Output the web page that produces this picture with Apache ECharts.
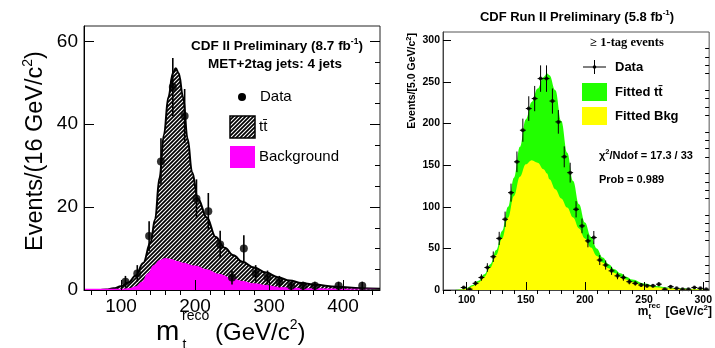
<!DOCTYPE html>
<html>
<head>
<meta charset="utf-8">
<script src="https://cdn.jsdelivr.net/npm/echarts@6/dist/echarts.min.js"></script>
<style>
  html, body { margin: 0; padding: 0; background: #fff; }
  #chart { width: 715px; height: 348px; }
</style>
</head>
<body>
<div id="chart"></div>
<script>
// ---------- Left panel: MET+2tag jets, 4 jets (16 GeV/c^2 bins) ----------
const leftDataMass   = [106, 122, 138, 154, 170, 186, 202, 218, 234, 250, 266, 282, 298, 314, 330, 346, 362, 394, 426];
const leftDataEvents = [2, 4, 13, 31, 49, 42, 22, 19, 11, 3, 10, 4, 3, 2, 1, 1, 1, 1, 1];
const leftDataErr    = [1.4, 2, 3.6, 5.6, 7, 6.5, 4.7, 4.4, 3.3, 1.7, 3.2, 2, 1.7, 1.4, 1, 1, 1, 1, 1];

const leftFitMass  = [50, 70, 80, 90, 100, 110, 120, 130, 140, 146, 152, 158, 164, 170, 174, 178, 184, 190, 196, 204,
                      216, 228, 240, 252, 264, 280, 296, 312, 328, 344, 360, 392, 424, 450];
const leftFitTotal = [0, 0, 0.1, 0.4, 0.9, 1.8, 3.5, 6.5, 11.5, 17, 27, 37.5, 46.5, 52.3, 53.5, 52.3, 46.5, 36.5, 28.5, 22,
                      17.5, 12.8, 10.2, 8.4, 6.8, 5.4, 4.2, 3.1, 2.3, 1.7, 1.3, 0.8, 0.45, 0.3];

const leftBkgMass = [50, 100, 112, 120, 128, 136, 144, 152, 160, 168, 176, 184, 200, 216, 232, 248, 264, 280, 296, 312,
                     330, 360, 400, 450];
const leftBkg     = [0.3, 0.3, 0.5, 0.9, 2.0, 4.0, 6.0, 7.2, 7.7, 7.5, 7.0, 6.6, 5.9, 5.0, 3.9, 3.0, 2.2, 1.6, 1.2, 0.8,
                     0.55, 0.4, 0.3, 0.3];

const leftXTicks = [100, 200, 300, 400];
const leftXMinor = [60, 80, 120, 140, 160, 180, 220, 240, 260, 280, 320, 340, 360, 380, 420, 440];
const leftYTicks = [0, 20, 40, 60];
const leftYMinor = [5, 10, 15, 25, 30, 35, 45, 50, 55];

// ---------- Right panel: >= 1-tag events (5 GeV/c^2 bins) ----------
const rightDataMass = [97.5, 102.5, 107.5, 112.5, 117.5, 122.5, 127.5, 132.5, 137.5, 142.5,
                       147.5, 152.5, 157.5, 162.5, 167.5, 172.5, 177.5, 182.5, 187.5, 192.5,
                       197.5, 202.5, 207.5, 212.5, 217.5, 222.5, 227.5, 232.5, 237.5, 242.5,
                       247.5, 252.5, 257.5, 262.5, 267.5, 272.5, 277.5, 282.5, 287.5, 292.5,
                       297.5, 302.5];
const rightDataEvents = [3, 1, 8, 15, 27, 40, 62, 85, 117, 154,
                         192, 218, 230, 254, 254, 227, 202, 160, 141, 97,
                         77, 59, 63, 36, 30, 23, 17, 15, 10, 8,
                         6, 5, 5, 7, 1, 4, 2, 1, 1, 3,
                         2, 1];
const rightDataErr = [1.7, 1, 2.8, 3.9, 5.2, 6.3, 7.9, 9.2, 10.8, 12.4,
                      13.9, 14.8, 15.2, 15.9, 15.9, 15.1, 14.2, 12.6, 11.9, 9.8,
                      8.8, 7.7, 7.9, 6, 5.5, 4.8, 4.1, 3.9, 3.2, 2.8,
                      2.4, 2.2, 2.2, 2.6, 1, 2, 1.4, 1, 1, 1.7,
                      1.4, 1];
const rightBinHalfWidth = 2.5;

const rightFitMass  = [80, 90, 95, 100, 105, 110, 115, 120, 125, 130, 135, 140, 145, 150, 155, 160, 165, 168, 170, 175,
                       180, 185, 190, 195, 200, 205, 210, 215, 220, 225, 230, 235, 240, 250, 260, 270, 280, 290, 305];
const rightFitTotal = [0, 0, 0.5, 2.5, 6, 11, 19, 31, 48, 71, 100, 135, 172, 205, 226, 242, 256, 260, 258, 240,
                       203, 165, 131, 103, 81, 64, 50, 39, 31, 25, 20, 16, 12.5, 7.8, 4.8, 3, 2, 1.2, 0.6];
const rightFitBkg   = [0, 0, 0.3, 1.5, 4.5, 9, 16, 27, 42, 62, 87, 113, 136, 151, 156, 153, 145, 140, 133, 121,
                       110, 99, 87, 74, 62, 51, 41, 33, 26, 20.5, 16, 12.5, 9.5, 5.8, 3.4, 2.2, 1.4, 0.8, 0.4];

const rightXTicks = [100, 150, 200, 250, 300];
const rightXMinor = [80, 90, 110, 120, 130, 140, 160, 170, 180, 190, 210, 220, 230, 240, 260, 270, 280, 290];
const rightYTicks = [0, 50, 100, 150, 200, 250, 300];
const rightYMinor = [10, 20, 30, 40, 60, 70, 80, 90, 110, 120, 130, 140, 160, 170, 180, 190,
                     210, 220, 230, 240, 260, 270, 280, 290];

// ---------- helpers ----------
const SANS = 'Liberation Sans, Arial, Helvetica, sans-serif';
const SERIF = 'Liberation Serif, Times New Roman, serif';

const zip = (xs, ys) => xs.map((x, i) => [x, ys[i]]);
const zip3 = (xs, ys, es) => xs.map((x, i) => [x, ys[i], es[i]]);

// black background with white diagonal hatching for the ttbar template
function hatchPattern() {
  const c = document.createElement('canvas');
  c.width = 4; c.height = 4;
  const g = c.getContext('2d');
  g.fillStyle = '#000';
  g.fillRect(0, 0, 4, 4);
  g.strokeStyle = '#fff';
  g.lineWidth = 1.1;
  g.beginPath();
  g.moveTo(-1, 5); g.lineTo(5, -1);
  g.moveTo(-1, 1); g.lineTo(1, -1);
  g.moveTo(3, 5); g.lineTo(5, 3);
  g.stroke();
  return c;
}
const hatch = { image: hatchPattern(), repeat: 'repeat' };

function tickAxis(gridIndex, min, max, values, len, extra) {
  return Object.assign({
    gridIndex, type: 'value', min, max, z: 10,
    splitLine: { show: false },
    axisLine: { show: false },
    axisLabel: { show: false },
    axisTick: { show: true, inside: true, length: len, customValues: values, lineStyle: { color: '#000', width: 1 } }
  }, extra || {});
}

function text(x, y, str, size, opts) {
  const o = opts || {};
  const style = {
    text: str, fill: o.color || '#000',
    fontSize: size, fontFamily: o.family || SANS, fontWeight: o.weight || 'normal',
    align: o.align || 'left', textAlign: o.align || 'left',
    verticalAlign: 'middle', textVerticalAlign: 'middle'
  };
  if (o.rich) style.rich = o.rich;
  return { type: 'text', x, y, rotation: o.rotation || 0, z: 100, style };
}

function supStyle(size, raise, weight) {
  return { sup: { fontSize: size, fontFamily: SANS, fontWeight: weight || 'normal', padding: [0, 0, raise, 0] } };
}

// ---------- error bars ----------
function errorBars(width, withHorizontal) {
  return function (params, api) {
    const x = api.value(0), y = api.value(1), e = api.value(2);
    const top = api.coord([x, y + e]);
    const bot = api.coord([x, Math.max(0, y - e)]);
    const children = [{
      type: 'line',
      shape: { x1: top[0], y1: top[1], x2: bot[0], y2: bot[1] },
      style: { stroke: '#000', lineWidth: width }
    }];
    if (withHorizontal) {
      const l = api.coord([x - rightBinHalfWidth, y]);
      const r = api.coord([x + rightBinHalfWidth, y]);
      children.push({
        type: 'line',
        shape: { x1: l[0], y1: l[1], x2: r[0], y2: r[1] },
        style: { stroke: '#000', lineWidth: width }
      });
    }
    return { type: 'group', children };
  };
}

const chart = echarts.init(document.getElementById('chart'), null, { renderer: 'canvas', width: 715, height: 348 });

const option = {
  animation: false,
  backgroundColor: '#fff',
  grid: [
    { left: 84, top: 26, width: 296, height: 264, show: true, borderColor: '#222', borderWidth: 1, backgroundColor: 'transparent' },
    { left: 443, top: 32, width: 269, height: 258, show: true, borderColor: '#555', borderWidth: 1, backgroundColor: 'transparent' }
  ],
  xAxis: [
    tickAxis(0, 50, 450, leftXTicks, 10, {
      axisLine: { show: true, lineStyle: { color: '#000', width: 1 } },
      axisLabel: { show: true, customValues: leftXTicks, margin: 7, fontSize: 19, fontFamily: SANS, color: '#000' }
    }),
    tickAxis(0, 50, 450, leftXMinor, 5),
    tickAxis(1, 80, 305, rightXTicks, 8, {
      axisLine: { show: true, lineStyle: { color: '#444', width: 1 } },
      axisLabel: { show: true, customValues: rightXTicks, margin: 5, fontSize: 10.5, fontWeight: 'bold', fontFamily: SANS, color: '#000' }
    }),
    tickAxis(1, 80, 305, rightXMinor, 4)
  ],
  yAxis: [
    tickAxis(0, 0, 63.7, leftYTicks, 10, {
      axisLine: { show: true, lineStyle: { color: '#000', width: 1 } },
      axisLabel: { show: true, customValues: leftYTicks, margin: 6, fontSize: 19, fontFamily: SANS, color: '#000' }
    }),
    tickAxis(0, 0, 63.7, leftYMinor, 5),
    tickAxis(0, 0, 63.7, leftYTicks, 10, { position: 'right' }),
    tickAxis(0, 0, 63.7, leftYMinor, 5, { position: 'right' }),
    tickAxis(1, 0, 310, rightYTicks, 8, {
      axisLine: { show: true, lineStyle: { color: '#444', width: 1 } },
      axisLabel: { show: true, customValues: rightYTicks, margin: 3, fontSize: 10.5, fontWeight: 'bold', fontFamily: SANS, color: '#000' }
    }),
    tickAxis(1, 0, 310, rightYMinor, 4)
  ],
  series: [
    // left: ttbar + background template (hatched), outlined
    {
      type: 'line', xAxisIndex: 0, yAxisIndex: 0, z: 2,
      data: zip(leftFitMass, leftFitTotal),
      smooth: 0.4, smoothMonotone: 'x', showSymbol: false, silent: true,
      lineStyle: { color: '#000', width: 2 },
      areaStyle: { color: hatch, opacity: 1 }
    },
    // left: background template
    {
      type: 'line', xAxisIndex: 0, yAxisIndex: 0, z: 3,
      data: zip(leftBkgMass, leftBkg),
      smooth: 0.4, smoothMonotone: 'x', showSymbol: false, silent: true,
      lineStyle: { width: 0, color: '#ff00ff' },
      areaStyle: { color: '#ff00ff', opacity: 1 }
    },
    // left: data error bars
    {
      type: 'custom', xAxisIndex: 0, yAxisIndex: 0, z: 5,
      data: zip3(leftDataMass, leftDataEvents, leftDataErr),
      encode: { x: 0, y: 1 },
      renderItem: errorBars(1.6, false)
    },
    // left: data points
    {
      type: 'scatter', xAxisIndex: 0, yAxisIndex: 0, z: 6,
      data: zip(leftDataMass, leftDataEvents),
      symbol: 'circle', symbolSize: 8,
      itemStyle: { color: '#000' }
    },
    // right: fitted ttbar (stacked on background)
    {
      type: 'line', xAxisIndex: 2, yAxisIndex: 4, z: 2,
      data: zip(rightFitMass, rightFitTotal),
      smooth: 0.4, smoothMonotone: 'x', showSymbol: false, silent: true,
      lineStyle: { width: 0, color: '#22ff00' },
      areaStyle: { color: '#22ff00', opacity: 1 }
    },
    // right: fitted background
    {
      type: 'line', xAxisIndex: 2, yAxisIndex: 4, z: 3,
      data: zip(rightFitMass, rightFitBkg),
      smooth: 0.4, smoothMonotone: 'x', showSymbol: false, silent: true,
      lineStyle: { width: 0, color: '#ffff00' },
      areaStyle: { color: '#ffff00', opacity: 1 }
    },
    // right: data error bars
    {
      type: 'custom', xAxisIndex: 2, yAxisIndex: 4, z: 5,
      data: zip3(rightDataMass, rightDataEvents, rightDataErr),
      encode: { x: 0, y: 1 },
      renderItem: errorBars(1, true)
    },
    // right: data points
    {
      type: 'scatter', xAxisIndex: 2, yAxisIndex: 4, z: 6,
      data: zip(rightDataMass, rightDataEvents),
      symbol: 'circle', symbolSize: 4,
      itemStyle: { color: '#000' }
    }
  ],
  graphic: [
    // ----- left panel annotations -----
    text(277, 46, 'CDF II Preliminary (8.7 fb{sup|-1})', 13.5, { weight: 'bold', align: 'center', rich: supStyle(8.5, 9, 'bold') }),
    text(275, 64, 'MET+2tag jets: 4 jets', 13.5, { weight: 'bold', align: 'center' }),
    { type: 'circle', shape: { cx: 242, cy: 97, r: 4 }, style: { fill: '#000' }, z: 100 },
    text(260, 97, 'Data', 15),
    { type: 'rect', shape: { x: 230, y: 116, width: 25, height: 22 }, style: { fill: hatch, stroke: '#000', lineWidth: 1.5 }, z: 100 },
    text(259, 127, 't\u0074\u0304', 15),
    { type: 'rect', shape: { x: 230, y: 146, width: 25, height: 22 }, style: { fill: '#ff00ff' }, z: 100 },
    text(259, 157, 'Background', 15),
    text(36, 151, 'Events/(16 GeV/c{sup|2})', 23.5, { align: 'center', rotation: Math.PI / 2, rich: supStyle(14, 16) }),
    text(156, 332, 'm', 28),
    text(182, 316.5, 'reco', 14),
    text(182.5, 345, 't', 14),
    text(215, 333.5, '(GeV/c{sup|2})', 24, { rich: supStyle(14, 16) }),

    // ----- right panel annotations -----
    text(577, 17, 'CDF Run II Preliminary (5.8 fb{sup|-1})', 13, { weight: 'bold', align: 'center', rich: supStyle(8, 8, 'bold') }),
    text(627, 43, '\u2265 1-tag events', 12.5, { weight: 'bold', family: SERIF, align: 'center' }),
    { type: 'line', shape: { x1: 583, y1: 67, x2: 606, y2: 67 }, style: { stroke: '#000', lineWidth: 1 }, z: 100 },
    { type: 'line', shape: { x1: 594.5, y1: 60, x2: 594.5, y2: 74 }, style: { stroke: '#000', lineWidth: 1 }, z: 100 },
    { type: 'circle', shape: { cx: 594.5, cy: 67, r: 1.8 }, style: { fill: '#000' }, z: 100 },
    text(615, 67, 'Data', 13, { weight: 'bold' }),
    { type: 'rect', shape: { x: 582, y: 83, width: 25, height: 18 }, style: { fill: '#22ff00' }, z: 100 },
    text(615, 92, 'Fitted t\u0074\u0304', 13, { weight: 'bold' }),
    { type: 'rect', shape: { x: 582, y: 107, width: 25, height: 18 }, style: { fill: '#ffff00' }, z: 100 },
    text(615, 116, 'Fitted Bkg', 13, { weight: 'bold' }),
    text(599, 156, '\u03c7{sup|2}/Ndof = 17.3 / 33', 11, { weight: 'bold', rich: supStyle(7.5, 8, 'bold') }),
    text(599, 180, 'Prob = 0.989', 11, { weight: 'bold' }),
    text(412, 33, 'Events/[5.0 GeV/c{sup|2}]', 10.5, { weight: 'bold', align: 'right', rotation: Math.PI / 2, rich: supStyle(7.5, 7, 'bold') }),
    text(712, 312, '[GeV/c{sup|2}]', 12, { weight: 'bold', align: 'right', rich: supStyle(8, 8, 'bold') }),
    text(648.5, 312, 'm', 12, { weight: 'bold', align: 'right' }),
    text(648.5, 306, 'rec', 8, { weight: 'bold' }),
    text(648.5, 316.5, 't', 8, { weight: 'bold' })
  ]
};

chart.setOption(option);
</script>
</body>
</html>
